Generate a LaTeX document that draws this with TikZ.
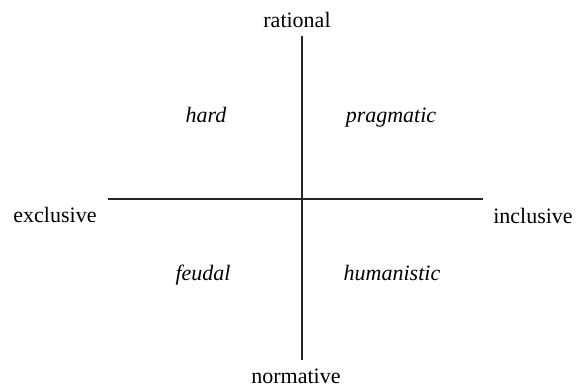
\documentclass[tikz,border=0pt]{standalone}
\usepackage{fontspec}
\setmainfont{Liberation Serif}
\begin{document}
\begin{tikzpicture}[x=1pt,y=-1pt,
  lbl/.style={anchor=base,inner sep=0pt,font=\fontsize{22}{26}\selectfont},
  quad/.style={lbl,font=\fontsize{22}{26}\selectfont\itshape},
  axis/.style={line width=1.2pt,black!85}]
\useasboundingbox (0,0) rectangle (585,387);
\node[lbl] (rat) at (297,28) {rational};
\node[lbl] (norm) at (296,383) {normative};
\node[lbl] (excl) at (55,222) {exclusive};
\node[lbl] (incl) at (533,223) {inclusive};
\node[quad] (hard) at (206,123) {hard};
\node[quad] (prag) at (391,123) {pragmatic};
\node[quad] (feud) at (203,280) {feudal};
\node[quad] (hum) at (392,280) {humanistic};
\coordinate (top) at (302,36);
\coordinate (bot) at (302,360);
\coordinate (left) at (108,199);
\coordinate (right) at (483,199);
\draw[axis] (top) -- (bot);
\draw[axis] (left) -- (right);
\end{tikzpicture}
\end{document}
